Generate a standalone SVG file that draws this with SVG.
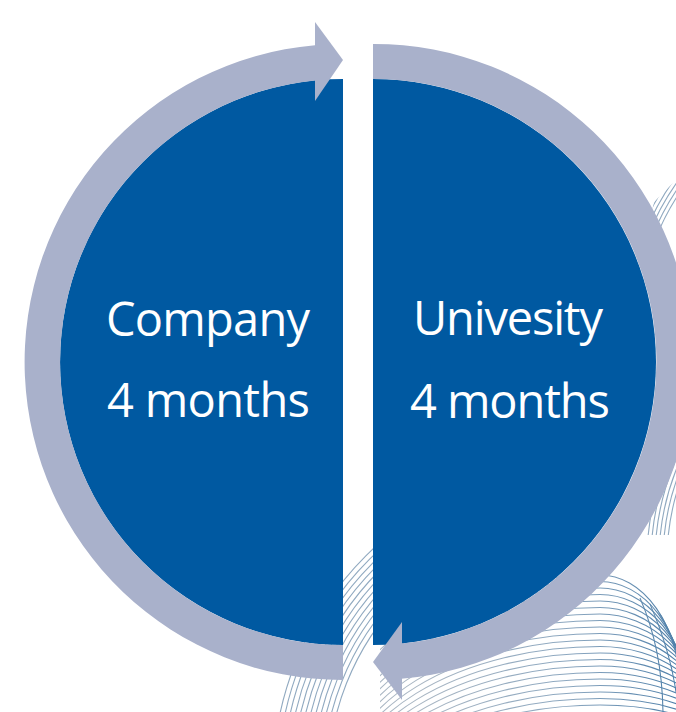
<svg xmlns="http://www.w3.org/2000/svg" width="676" height="712" viewBox="0 0 676 712">
<style>
.dark{fill:#0059A1}
.ring{fill:#A9B1CB}
.wire{fill:none;stroke:#7C9AB5;stroke-width:1.1;stroke-opacity:0.85}
.sph{fill:none;stroke:url(#gS);stroke-width:1.1}
.lbl{font-family:"Open Sans","Noto Sans",sans-serif;font-size:47px;fill:#FFFFFF;text-anchor:middle}
</style>
<defs>
<linearGradient id="gS" gradientUnits="userSpaceOnUse" x1="420" y1="0" x2="676" y2="0">
<stop offset="0" stop-color="#A9B6C3"/>
<stop offset="0.6" stop-color="#8AA6BF"/>
<stop offset="1" stop-color="#4F80AA"/>
</linearGradient>
<clipPath id="cL"><rect x="0" y="540" width="470" height="172"/></clipPath>
<clipPath id="cA"><polygon points="676,180 654,202 640,265 676,265"/></clipPath>
<clipPath id="cB"><rect x="600" y="420" width="76" height="115"/></clipPath>
<clipPath id="cS"><rect x="380" y="560" width="296" height="152"/></clipPath>
</defs>
<rect width="676" height="712" fill="#FFFFFF"/>
<g id="decor">
<g class="wire" clip-path="url(#cL)">
<circle cx="590" cy="780" r="262"/><circle cx="590" cy="780" r="267"/><circle cx="590" cy="780" r="272"/><circle cx="590" cy="780" r="277"/><circle cx="590" cy="780" r="282"/><circle cx="590" cy="780" r="287"/><circle cx="590" cy="780" r="292"/><circle cx="590" cy="780" r="297"/><circle cx="590" cy="780" r="302"/><circle cx="590" cy="780" r="307"/><circle cx="590" cy="780" r="312"/><circle cx="590" cy="780" r="317"/>
</g>
<g class="wire" clip-path="url(#cA)">
<circle cx="885" cy="330" r="247"/><circle cx="885" cy="330" r="251"/><circle cx="885" cy="330" r="255"/><circle cx="885" cy="330" r="259"/><circle cx="885" cy="330" r="263"/><circle cx="885" cy="330" r="267"/><circle cx="885" cy="330" r="271"/><circle cx="885" cy="330" r="275"/><circle cx="885" cy="330" r="279"/><circle cx="885" cy="330" r="283"/>
</g>
<g class="wire" clip-path="url(#cB)">
<circle cx="905" cy="560" r="238"/><circle cx="905" cy="560" r="242"/><circle cx="905" cy="560" r="246"/><circle cx="905" cy="560" r="250"/><circle cx="905" cy="560" r="254"/><circle cx="905" cy="560" r="258"/>
</g>
<g class="sph" clip-path="url(#cS)">
<path d="M340,735 A260,160 0 0 1 600,575 A80,115 0 0 1 680,690"/>
<path d="M340,741.5 A260,160 0 0 1 600,581.5 A83,112.3 0 0 1 683,693.8"/>
<path d="M340,748 A260,160 0 0 1 600,588 A86,109.6 0 0 1 686,697.6"/>
<path d="M340,754.5 A260,160 0 0 1 600,594.5 A89,106.9 0 0 1 689,701.4"/>
<path d="M340,761 A260,160 0 0 1 600,601 A92,104.2 0 0 1 692,705.2"/>
<path d="M340,767.5 A260,160 0 0 1 600,607.5 A95,101.5 0 0 1 695,709"/>
<path d="M340,774 A260,160 0 0 1 600,614 A98,98.8 0 0 1 698,712.8"/>
<path d="M340,780.5 A260,160 0 0 1 600,620.5 A101,96.1 0 0 1 701,716.6"/>
<path d="M340,787 A260,160 0 0 1 600,627 A104,93.4 0 0 1 704,720.4"/>
<path d="M340,793.5 A260,160 0 0 1 600,633.5 A107,90.7 0 0 1 707,724.2"/>
<path d="M340,800 A260,160 0 0 1 600,640 A110,88 0 0 1 710,728"/>
<path d="M340,806.5 A260,160 0 0 1 600,646.5 A113,85.3 0 0 1 713,731.8"/>
<path d="M340,813 A260,160 0 0 1 600,653 A116,82.6 0 0 1 716,735.6"/>
<path d="M340,819.5 A260,160 0 0 1 600,659.5 A119,79.9 0 0 1 719,739.4"/>
<path d="M340,826 A260,160 0 0 1 600,666 A122,77.2 0 0 1 722,743.2"/>
<path d="M340,832.5 A260,160 0 0 1 600,672.5 A125,74.5 0 0 1 725,747"/>
<path d="M340,839 A260,160 0 0 1 600,679 A128,71.8 0 0 1 728,750.8"/>
<path d="M340,845.5 A260,160 0 0 1 600,685.5 A131,69.1 0 0 1 731,754.6"/>
<path d="M340,852 A260,160 0 0 1 600,692 A134,66.4 0 0 1 734,758.4"/>
<path d="M340,858.5 A260,160 0 0 1 600,698.5 A137,63.7 0 0 1 737,762.2"/>
<path d="M340,865 A260,160 0 0 1 600,705 A140,61 0 0 1 740,766"/>
<path d="M640,598 Q662,648 663,712"/>
<path d="M650,604 Q670,650 676,692"/>
<path d="M660,614 Q674,638 680,660"/>
</g>
</g>
<g id="company">
<path class="dark" d="M343,79 A283,283 0 0 0 343,645 Z"/>
<text class="lbl" x="208" y="336" textLength="204">Company</text>
<text class="lbl" x="208.5" y="417" textLength="203">4 months</text>
</g>
<g id="university">
<path class="dark" d="M373,79 A283,283 0 0 1 373,645 Z"/>
<text class="lbl" x="508" y="335" textLength="190">Univesity</text>
<text class="lbl" x="510" y="418" textLength="200">4 months</text>
</g>
<g id="connectors">
<path class="ring" d="M315,45.2 A318,318 0 0 0 343,680 L343,645 A283,283 0 0 1 315,80.4 Z"/>
<polygon class="ring" points="315,22 343,60 315,101"/>
<path class="ring" d="M373,44 A318,318 0 0 1 401.5,678.8 L401.5,643.6 A283,283 0 0 0 373,79 Z"/>
<polygon class="ring" points="402,622 373,662 402,700"/>
</g>
</svg>
